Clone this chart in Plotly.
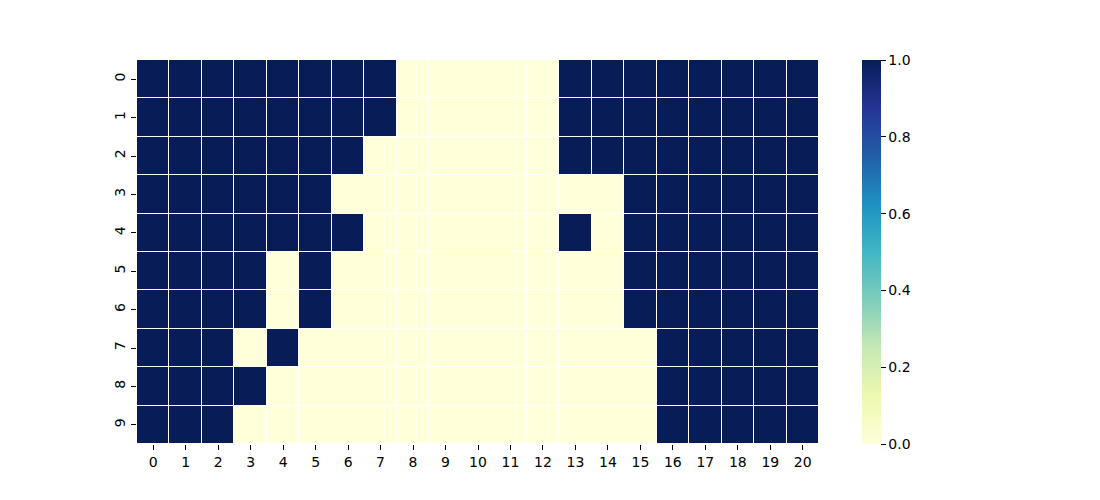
import plotly.graph_objects as go

columns = list(range(21))
rows = list(range(10))

# 1 = dark, 0 = light
grid = [
    [1,1,1,1,1,1,1,1,0,0,0,0,0,1,1,1,1,1,1,1,1],
    [1,1,1,1,1,1,1,1,0,0,0,0,0,1,1,1,1,1,1,1,1],
    [1,1,1,1,1,1,1,0,0,0,0,0,0,1,1,1,1,1,1,1,1],
    [1,1,1,1,1,1,0,0,0,0,0,0,0,0,0,1,1,1,1,1,1],
    [1,1,1,1,1,1,1,0,0,0,0,0,0,1,0,1,1,1,1,1,1],
    [1,1,1,1,0,1,0,0,0,0,0,0,0,0,0,1,1,1,1,1,1],
    [1,1,1,1,0,1,0,0,0,0,0,0,0,0,0,1,1,1,1,1,1],
    [1,1,1,0,1,0,0,0,0,0,0,0,0,0,0,0,1,1,1,1,1],
    [1,1,1,1,0,0,0,0,0,0,0,0,0,0,0,0,1,1,1,1,1],
    [1,1,1,0,0,0,0,0,0,0,0,0,0,0,0,0,1,1,1,1,1],
]

ylgnbu = [
    [0.0, "#ffffd9"], [0.125, "#edf8b1"], [0.25, "#c7e9b4"], [0.375, "#7fcdbb"],
    [0.5, "#41b6c4"], [0.625, "#1d91c0"], [0.75, "#225ea8"], [0.875, "#253494"],
    [1.0, "#081d58"],
]

font = dict(family="DejaVu Sans", size=14, color="#000000")

fig = go.Figure(go.Heatmap(
    z=grid, x=columns, y=rows,
    colorscale=ylgnbu, zmin=0, zmax=1,
    xgap=1, ygap=1,
    colorbar=dict(
        thickness=19, len=1, lenmode="fraction", y=0.5, yanchor="middle",
        x=1.063, xanchor="left", xpad=0, ypad=0, outlinewidth=0,
        ticks="outside", ticklen=5, tickwidth=1, tickcolor="#000000",
        tickvals=[0, 0.2, 0.4, 0.6, 0.8, 1.0],
        ticktext=["0.0", "0.2", "0.4", "0.6", "0.8", "1.0"],
        tickfont=font,
    ),
    hoverinfo="skip",
))

fig.update_layout(
    width=1100, height=500,
    margin=dict(l=129, r=289, t=52, b=64),
    paper_bgcolor="white", plot_bgcolor="white",
    font=font,
)
fig.update_xaxes(
    tickmode="array", tickvals=columns, ticktext=[str(c) for c in columns],
    ticks="outside", ticklen=5, tickwidth=1, tickcolor="#000000",
    showgrid=False, zeroline=False, showline=False,
    range=[-0.5, 20.5], tickfont=font,
)
fig.update_yaxes(
    tickmode="array", tickvals=rows, ticktext=[str(r) for r in rows],
    ticks="outside", ticklen=5, tickwidth=1, tickcolor="#000000",
    showgrid=False, zeroline=False, showline=False,
    range=[9.5, -0.5], tickangle=-90, tickfont=font,
)

fig.write_html("out.html")
